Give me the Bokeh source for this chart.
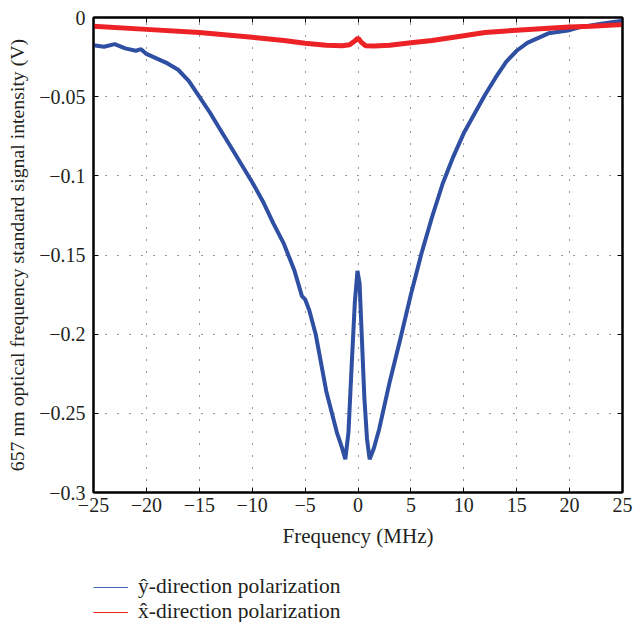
from bokeh.plotting import figure
from bokeh.layouts import column
from bokeh.models import (Legend, LegendItem, LinearAxis, FixedTicker, Range1d)
from bokeh.embed import file_html
from bokeh.resources import INLINE

# ---- data ----
blue_x = [-25, -24, -23, -22, -21, -20.5, -20, -19, -18, -17, -16, -15, -14, -13, -12, -11,
          -10, -9, -8, -7, -6, -5.3, -5.0, -4.6, -4.0, -3.0, -2.0, -1.5, -1.2, -0.9, -0.6,
          -0.3, -0.05, 0.15, 0.35, 0.6, 0.85, 1.1, 1.5, 2.0, 3.0, 4.0, 5.0, 6.0, 7.0, 8.0,
          9.0, 10.0, 11.0, 12.0, 13.0, 14.0, 15.0, 16.0, 17.0, 18.0, 19.0, 20.0, 21.0, 22.0,
          23.0, 24.0, 25.0]
blue_y = [-0.0175, -0.0185, -0.0168, -0.0195, -0.021, -0.020, -0.023, -0.026, -0.029, -0.033,
          -0.040, -0.050, -0.060, -0.071, -0.082, -0.093, -0.104, -0.116, -0.130, -0.143,
          -0.160, -0.176, -0.178, -0.185, -0.200, -0.236, -0.262, -0.272, -0.279, -0.262,
          -0.220, -0.180, -0.160, -0.168, -0.200, -0.240, -0.266, -0.279, -0.272, -0.260,
          -0.230, -0.203, -0.175, -0.149, -0.126, -0.105, -0.088, -0.073, -0.061, -0.049,
          -0.038, -0.028, -0.021, -0.016, -0.013, -0.010, -0.009, -0.008, -0.006, -0.005,
          -0.004, -0.003, -0.002]

red_x = [-25, -20, -15, -10, -7, -5, -3, -1.5, -0.8, -0.3, 0, 0.3, 0.7, 1.5, 3, 5, 7, 10,
         12, 15, 18, 20, 22, 25]
red_y = [-0.0055, -0.0075, -0.0095, -0.0125, -0.0145, -0.0162, -0.0175, -0.0178, -0.0172,
         -0.0148, -0.013, -0.0155, -0.0178, -0.018, -0.0175, -0.016, -0.0145, -0.0115,
         -0.0095, -0.008, -0.0068, -0.006, -0.0055, -0.0045]

x_ticks = [-25, -20, -15, -10, -5, 0, 5, 10, 15, 20, 25]
x_tick_labels = ["\u221225", "\u221220", "\u221215", "\u221210", "\u22125", "0", "5", "10",
                 "15", "20", "25"]
y_ticks = [0, -0.05, -0.1, -0.15, -0.2, -0.25, -0.3]
y_tick_labels = ["0", "\u22120.05", "\u22120.1", "\u22120.15", "\u22120.2", "\u22120.25",
                 "\u22120.3"]

series_names = ["\u0177-direction polarization", "x\u0302-direction polarization"]

BLUE = "#2f4fa2"
RED = "#ec2227"
FONT = "Liberation Serif"
TXT = "#231f20"

p = figure(width=634, height=565, output_backend="svg", toolbar_location=None,
           x_range=Range1d(-25, 25), y_range=Range1d(-0.3, 0),
           min_border_left=93, min_border_top=17, min_border_right=12, min_border_bottom=73)

p.line(blue_x, blue_y, line_color=BLUE, line_width=4)
p.line(red_x, red_y, line_color=RED, line_width=5)

p.outline_line_color = "black"
p.outline_line_width = 2
p.background_fill_color = "white"
p.border_fill_color = "white"

xo = {v: s for v, s in zip(x_ticks, x_tick_labels)}
yo = {v: s for v, s in zip(y_ticks, y_tick_labels)}

for ax, ticks, ov in [(p.xaxis[0], x_ticks, xo), (p.yaxis[0], y_ticks, yo)]:
    ax.ticker = FixedTicker(ticks=ticks)
    ax.major_label_overrides = ov
    ax.major_tick_in = 5
    ax.major_tick_out = 0
    ax.minor_tick_in = 0
    ax.minor_tick_out = 0
    ax.axis_line_color = "black"
    ax.axis_line_width = 2
    ax.major_tick_line_width = 1
    ax.major_label_text_font = FONT
    ax.major_label_text_font_size = "20px"
    ax.major_label_text_color = TXT
    ax.axis_label_text_font = FONT
    ax.axis_label_text_font_style = "normal"
    ax.axis_label_text_color = TXT

p.xaxis.axis_label = "Frequency (MHz)"
p.yaxis.axis_label = "657 nm optical frequency standard signal intensity (V)"
p.xaxis.axis_label_text_font_size = "21px"
p.yaxis.axis_label_text_font_size = "19.8px"
p.xaxis.major_label_standoff = 5
p.xaxis.axis_label_standoff = 9
p.yaxis.major_label_standoff = 8
p.yaxis.axis_label_standoff = 8

# top and right tick-only axes (labels not drawn)
for side, ticks in [("above", x_ticks), ("right", y_ticks)]:
    a = LinearAxis(ticker=FixedTicker(ticks=ticks))
    a.major_label_text_font_size = "1px"
    a.major_label_text_color = None
    a.major_label_standoff = 0
    a.axis_label_standoff = 0
    a.major_tick_in = 5
    a.major_tick_out = 0
    a.minor_tick_in = 0
    a.minor_tick_out = 0
    a.axis_line_color = "black"
    a.axis_line_width = 2
    p.add_layout(a, side)

for g, ticks in [(p.xgrid[0], x_ticks[1:-1]), (p.ygrid[0], y_ticks[1:-1])]:
    g.ticker = FixedTicker(ticks=ticks)
    g.grid_line_color = "#333333"
    g.grid_line_dash = "1 11"
    g.grid_line_width = 1

# legend figure below the plot
q = figure(width=634, height=57, output_backend="svg", toolbar_location=None,
           x_range=Range1d(0, 1), y_range=Range1d(0, 1), x_axis_type=None, y_axis_type=None,
           min_border_left=93, min_border_top=9, min_border_right=0, min_border_bottom=0)
q.outline_line_color = None
q.xgrid.visible = False
q.ygrid.visible = False
q.background_fill_color = "white"
q.border_fill_color = "white"
lb = q.line([float("nan")], [float("nan")], line_color="#4563b3", line_width=1)
lr = q.line([float("nan")], [float("nan")], line_color=RED, line_width=1)

legend = Legend(items=[LegendItem(label=series_names[0], renderers=[lb]),
                       LegendItem(label=series_names[1], renderers=[lr])],
                location="top_left", orientation="vertical")
legend.label_text_font = FONT
legend.label_text_font_size = "21.5px"
legend.label_text_color = TXT
legend.glyph_width = 35
legend.glyph_height = 24
legend.label_height = 24
legend.spacing = 0
legend.label_standoff = 10
legend.padding = 0
legend.margin = 0
legend.border_line_color = None
legend.background_fill_alpha = 0
q.add_layout(legend, "center")

layout = column(p, q, spacing=0)
open("out.html", "w").write(file_html(layout, INLINE))
